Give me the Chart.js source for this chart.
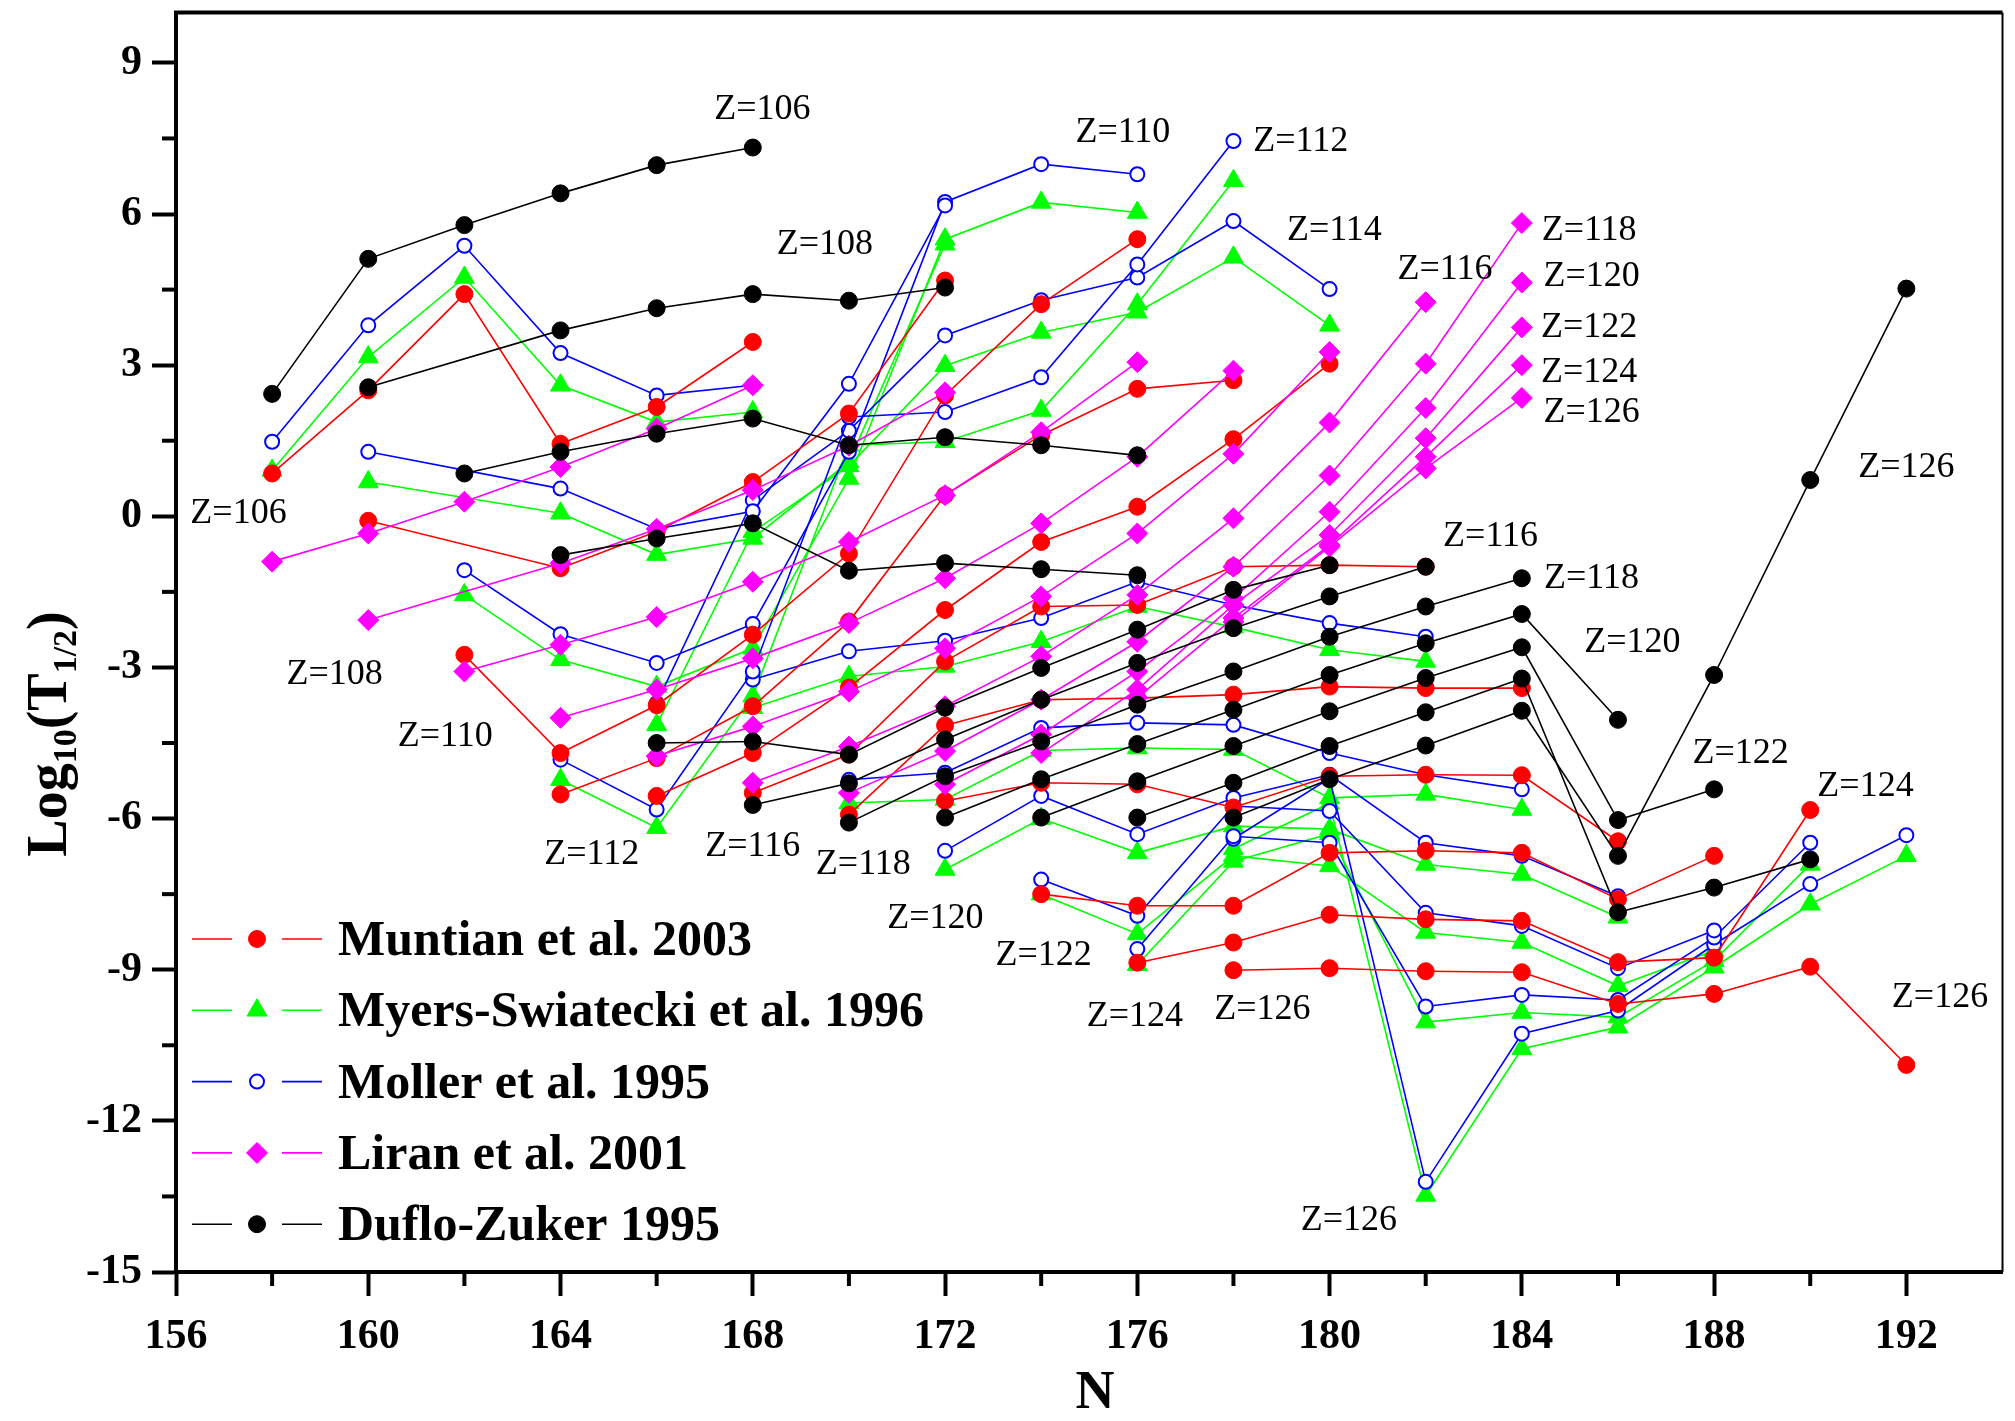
<!DOCTYPE html>
<html lang="en">
<head>
  <meta charset="UTF-8">
  <title>Log10(T1/2) versus N</title>
  <script src="https://cdn.jsdelivr.net/npm/chart.js"></script>
  <style>
    html, body { margin: 0; padding: 0; background: #ffffff; }
    #wrap { width: 2015px; height: 1421px; }
  </style>
</head>
<body>
  <div id="wrap"><canvas id="chart" width="2015" height="1421"></canvas></div>

  <script>
    // proton number of each isotope chain and the neutron number where it starts
    const Z_VALUES = [106, 108, 110, 112, 114, 116, 118, 120, 122, 124, 126];
    const CHAIN_START_N = [158, 160, 162, 164, 166, 168, 170, 172, 174, 176, 178];

    const X_TICKS = [156, 160, 164, 168, 172, 176, 180, 184, 188, 192];
    const Y_TICKS = [-15, -12, -9, -6, -3, 0, 3, 6, 9];

    // log10(T1/2), one value every 2 neutrons from the chain start (null = no point)
    const muntian = [
      [0.85, 2.50, 4.41, 1.44, 2.17, 3.46],
      [-0.09, null, -1.03, -0.30, 0.68, 2.04, 4.68],
      [-2.75, -4.70, -3.75, -2.35, -0.74, 2.40, 4.21, 5.50],
      [-5.52, -4.80, -3.77, -2.09, 0.42, 1.61, 2.53, 2.70],
      [-5.55, -4.70, -3.40, -1.86, -0.51, 0.19, 1.53, 3.03],
      [-5.49, -4.73, -2.88, -1.79, -1.76, -1.00, -0.97, -1.00],
      [-5.92, -4.15, -3.64, -3.61, -3.54, -3.38, -3.41, -3.41],
      [-5.65, -5.29, -5.32, -5.78, -5.16, -5.13, -5.14, -6.45],
      [-7.50, -7.73, -7.73, -6.68, -6.64, -6.68, -7.60, -6.74],
      [-8.86, -8.46, -7.91, -8.00, -8.03, -8.85, -8.76, -5.83],
      [-9.01, -8.97, -9.03, -9.05, -9.68, -9.48, -8.94, -10.89]
    ];

    const myersSwiatecki = [
      [0.91, 3.16, 4.74, 2.60, 1.87, 2.07],
      [0.68, null, 0.06, -0.76, -0.44, 1.08, 5.40],
      [-1.56, -2.85, -3.38, -2.62, 0.75, 5.50, 6.23, 6.03],
      [-5.23, -6.18, -3.57, 1.41, 1.48, 2.10, 4.21, 6.66],
      [-4.14, -0.31, 1.00, 2.99, 3.65, 4.05, 5.14, 3.79],
      [-3.80, -3.18, -2.98, -2.49, -1.79, -2.20, -2.65, -2.88],
      [-5.69, -5.62, -4.65, -4.60, -4.63, -5.59, -5.52, -5.82],
      [-7.01, -6.00, -6.68, -6.15, -6.21, -6.91, -7.11, -7.96],
      [-7.50, -8.29, -6.74, -6.94, -8.26, -8.46, -9.32, -8.62],
      [-8.90, -6.85, -6.30, -10.04, -9.85, -9.94, -8.82, -6.91],
      [-6.60, -5.70, -13.48, -10.57, -10.14, -8.95, -7.70, -6.74]
    ];

    const moller = [
      [1.48, 3.79, 5.37, 3.24, 2.40, 2.60],
      [1.28, null, 0.55, -0.25, 0.10, 2.63, 6.17],
      [-1.07, -2.34, -2.91, -2.14, 1.28, 6.24, 6.99, 6.79],
      [-4.83, -5.82, -3.08, 1.97, 2.07, 2.76, 5.00, 7.45],
      [-3.71, 0.32, 1.70, 3.59, 4.29, 4.74, 5.86, 4.51],
      [-3.24, -2.68, -2.47, -2.02, -1.30, -1.76, -2.12, -2.39],
      [-5.23, -5.09, -4.20, -4.10, -4.14, -4.70, -5.13, -5.42],
      [-6.64, -5.55, -6.31, -5.59, -5.13, -6.48, -6.74, -7.54],
      [-7.21, -7.93, -5.75, -5.85, -7.87, -8.13, -8.97, -8.22],
      [-8.59, -6.35, -6.48, -9.73, -9.50, -9.60, -8.36, -6.48],
      [-6.40, -5.20, -13.21, -10.27, -9.81, -8.50, -7.30, -6.33]
    ];

    const liran = [
      [-0.90, -0.34, 0.29, 0.98, 1.74, 2.60],
      [-2.06, null, -0.93, -0.25, 0.52, 1.40, 2.46],
      [-3.08, -2.55, -2.00, -1.30, -0.51, 0.42, 1.67, 3.06],
      [-4.00, -3.44, -2.82, -2.12, -1.23, -0.14, 1.18, 2.89],
      [-4.76, -4.17, -3.48, -2.62, -1.59, -0.34, 1.24, 3.26],
      [-5.29, -4.57, -3.77, -2.78, -1.56, -0.04, 1.86, 4.25],
      [-5.49, -4.66, -3.64, -2.49, -1.00, 0.81, 3.03, 5.82],
      [-5.32, -4.33, -3.08, -1.63, 0.09, 2.15, 4.64],
      [-4.70, -3.44, -1.76, -0.37, 1.55, 3.75],
      [-3.60, -2.02, -0.57, 1.18, 3.00],
      [-2.10, -0.60, 0.95, 2.35]
    ];

    const dufloZuker = [
      [2.43, 5.11, 5.78, 6.41, 6.97, 7.32],
      [2.56, null, 3.69, 4.13, 4.41, 4.28, 4.54],
      [0.85, 1.28, 1.64, 1.94, 1.41, 1.57, 1.41, 1.21],
      [-0.77, -0.44, -0.14, -1.08, -0.93, -1.05, -1.17],
      [-4.50, -4.47, -4.73, -3.80, -3.01, -2.25, -1.46, -0.97],
      [-5.73, -5.30, -4.43, -3.64, -2.91, -2.22, -1.59, -1.00],
      [-6.08, -5.16, -4.47, -3.74, -3.08, -2.39, -1.79, -1.23],
      [-5.98, -5.22, -4.52, -3.84, -3.15, -2.52, -1.94, -4.04],
      [-5.98, -5.26, -4.56, -3.87, -3.21, -2.60, -6.03, -5.42],
      [-5.98, -5.29, -4.56, -3.89, -3.22, -7.86, -7.37, -6.81],
      [-5.98, -5.22, -4.55, -3.86, -6.74, -3.15, 0.72, 4.52]
    ];

    // chain labels: text, N, log10(T1/2)
    const Z_LABELS = [
      ['Z=106', 168.2, 8.07], ['Z=108', 169.5, 5.39], ['Z=110', 175.7, 7.62],
      ['Z=112', 179.4, 7.43], ['Z=114', 180.1, 5.68], ['Z=116', 182.4, 4.89],
      ['Z=118', 185.4, 5.68], ['Z=120', 185.45, 4.76], ['Z=122', 185.4, 3.74],
      ['Z=124', 185.4, 2.85], ['Z=126', 185.45, 2.05], ['Z=126', 192.0, 0.96],
      ['Z=106', 157.3, 0.06], ['Z=108', 159.3, -3.14], ['Z=110', 161.6, -4.37],
      ['Z=112', 164.65, -6.71], ['Z=116', 168.0, -6.55], ['Z=118', 170.3, -6.91],
      ['Z=120', 171.8, -7.98], ['Z=122', 174.05, -8.71], ['Z=124', 175.95, -9.92],
      ['Z=126', 178.6, -9.80], ['Z=126', 180.4, -13.97], ['Z=116', 183.35, -0.41],
      ['Z=118', 185.45, -1.23], ['Z=120', 186.3, -2.50], ['Z=122', 188.55, -4.71],
      ['Z=124', 191.15, -5.36], ['Z=126', 192.7, -9.56]
    ];

    // models, listed top layer first (Chart.js paints dataset 0 last)
    const MODELS = [
      { name: 'Duflo-Zuker 1995', values: dufloZuker, color: '#000000', shape: 'circle', fill: '#000000', radius: 8.5, border: 1 },
      { name: 'Liran et al. 2001', values: liran, color: '#ff00ff', shape: 'rectRot', fill: '#ff00ff', radius: 10.5, border: 1 },
      { name: 'Muntian et al. 2003', values: muntian, color: '#ff0000', shape: 'circle', fill: '#ff0000', radius: 8.5, border: 1 },
      { name: 'Moller et al. 1995', values: moller, color: '#0000ff', shape: 'circle', fill: '#ffffff', radius: 7, border: 2 },
      { name: 'Myers-Swiatecki et al. 1996', values: myersSwiatecki, color: '#00ff00', shape: 'triangle', fill: '#00ff00', radius: 11.5, border: 1 }
    ];
    const LEGEND_ORDER = [2, 4, 3, 1, 0];

    const datasets = [];
    MODELS.forEach(m => {
      m.values.forEach((chain, i) => {
        datasets.push({
          label: m.name + ' Z=' + Z_VALUES[i],
          data: chain.map((v, k) => ({ x: CHAIN_START_N[i] + 2 * k, y: v })),
          borderColor: m.color,
          borderWidth: 1.6,
          pointStyle: m.shape,
          pointRadius: m.radius,
          pointHoverRadius: m.radius,
          pointBackgroundColor: m.fill,
          pointBorderColor: m.color,
          pointBorderWidth: m.border,
          spanGaps: true,
          tension: 0,
          fill: false
        });
      });
    });

    const SERIF = "'Liberation Serif', 'Times New Roman', serif";

    function drawMarker(ctx, m, x, y) {
      ctx.save();
      ctx.fillStyle = m.fill;
      ctx.strokeStyle = m.color;
      ctx.lineWidth = m.border;
      ctx.beginPath();
      const r = m.radius;
      if (m.shape === 'circle') {
        ctx.arc(x, y, r, 0, Math.PI * 2);
      } else if (m.shape === 'triangle') {
        for (let k = 0; k < 3; k++) {
          const a = k * 2 * Math.PI / 3;
          const px = x + Math.sin(a) * r, py = y - Math.cos(a) * r;
          if (k === 0) ctx.moveTo(px, py); else ctx.lineTo(px, py);
        }
        ctx.closePath();
      } else {
        ctx.moveTo(x - r, y); ctx.lineTo(x, y - r); ctx.lineTo(x + r, y); ctx.lineTo(x, y + r);
        ctx.closePath();
      }
      ctx.fill();
      ctx.stroke();
      ctx.restore();
    }

    const decorations = {
      id: 'decorations',
      afterDraw(chart) {
        const ctx = chart.ctx;
        const xs = chart.scales.x, ys = chart.scales.y;
        const area = chart.chartArea;
        ctx.save();

        // top and right frame
        ctx.strokeStyle = '#000';
        ctx.lineWidth = 4;
        ctx.beginPath(); ctx.moveTo(area.left - 2, area.top); ctx.lineTo(area.right, area.top); ctx.stroke();
        ctx.lineWidth = 2;
        ctx.beginPath(); ctx.moveTo(area.right, area.top); ctx.lineTo(area.right, area.bottom); ctx.stroke();

        // minor ticks
        ctx.lineWidth = 4;
        for (let n = 158; n < 194; n += 4) {
          const px = xs.getPixelForValue(n);
          ctx.beginPath(); ctx.moveTo(px, area.bottom); ctx.lineTo(px, area.bottom + 14); ctx.stroke();
        }
        for (let v = -13.5; v < 10; v += 3) {
          const py = ys.getPixelForValue(v);
          ctx.beginPath(); ctx.moveTo(area.left, py); ctx.lineTo(area.left - 14, py); ctx.stroke();
        }

        // chain labels
        ctx.fillStyle = '#000';
        ctx.font = '36px ' + SERIF;
        ctx.textAlign = 'center';
        ctx.textBaseline = 'middle';
        Z_LABELS.forEach(([t, n, v]) => {
          ctx.fillText(t, xs.getPixelForValue(n), ys.getPixelForValue(v));
        });

        // axis titles
        ctx.font = 'bold 54px ' + SERIF;
        ctx.fillText('N', 1095, 1394);

        ctx.save();
        ctx.translate(47, 734);
        ctx.rotate(-Math.PI / 2);
        const parts = [['Log', false], ['10', true], ['(T', false], ['1/2', true], [')', false]];
        const big = 'bold 56px ' + SERIF, small = 'bold 34px ' + SERIF;
        let total = 0;
        parts.forEach(([t, sub]) => { ctx.font = sub ? small : big; total += ctx.measureText(t).width; });
        let cx = -total / 2;
        ctx.textAlign = 'left';
        ctx.textBaseline = 'alphabetic';
        parts.forEach(([t, sub]) => {
          ctx.font = sub ? small : big;
          ctx.fillText(t, cx, sub ? 29 : 19);
          cx += ctx.measureText(t).width;
        });
        ctx.restore();

        // legend
        ctx.textAlign = 'left';
        ctx.textBaseline = 'middle';
        ctx.font = 'bold 50px ' + SERIF;
        LEGEND_ORDER.forEach((mi, row) => {
          const m = MODELS[mi];
          const y = 939 + row * 71.3;
          ctx.strokeStyle = m.color;
          ctx.lineWidth = 1.6;
          ctx.beginPath(); ctx.moveTo(192, y); ctx.lineTo(232, y); ctx.stroke();
          ctx.beginPath(); ctx.moveTo(282, y); ctx.lineTo(322, y); ctx.stroke();
          drawMarker(ctx, m, 257, y);
          ctx.fillStyle = '#000';
          ctx.fillText(m.name, 338, y + 3);
        });

        ctx.restore();
      }
    };

    new Chart(document.getElementById('chart'), {
      type: 'line',
      data: { datasets: datasets },
      options: {
        responsive: false,
        animation: false,
        events: [],
        layout: { padding: { top: 10, right: 2, left: 0, bottom: 0 } },
        plugins: {
          legend: { display: false },
          tooltip: { enabled: false },
          title: { display: false }
        },
        scales: {
          x: {
            type: 'linear',
            min: 156,
            max: 194,
            afterBuildTicks: s => { s.ticks = X_TICKS.map(v => ({ value: v })); },
            afterFit: s => { s.height = 149; s.paddingLeft = 0; s.paddingRight = 0; },
            border: { display: true, color: '#000', width: 4 },
            grid: { drawOnChartArea: false, drawTicks: true, tickLength: 24, tickWidth: 4, tickColor: '#000' },
            ticks: {
              color: '#000',
              padding: 16,
              maxRotation: 0,
              font: { family: SERIF, size: 42, weight: 'bold' }
            }
          },
          y: {
            type: 'linear',
            min: -15,
            max: 10,
            afterBuildTicks: s => { s.ticks = Y_TICKS.map(v => ({ value: v })); },
            afterFit: s => { s.width = 176; s.paddingTop = 0; s.paddingBottom = 0; },
            border: { display: true, color: '#000', width: 4 },
            grid: { drawOnChartArea: false, drawTicks: true, tickLength: 24, tickWidth: 4, tickColor: '#000' },
            ticks: {
              color: '#000',
              padding: 10,
              font: { family: SERIF, size: 42, weight: 'bold' }
            }
          }
        }
      },
      plugins: [decorations]
    });
  </script>
</body>
</html>
